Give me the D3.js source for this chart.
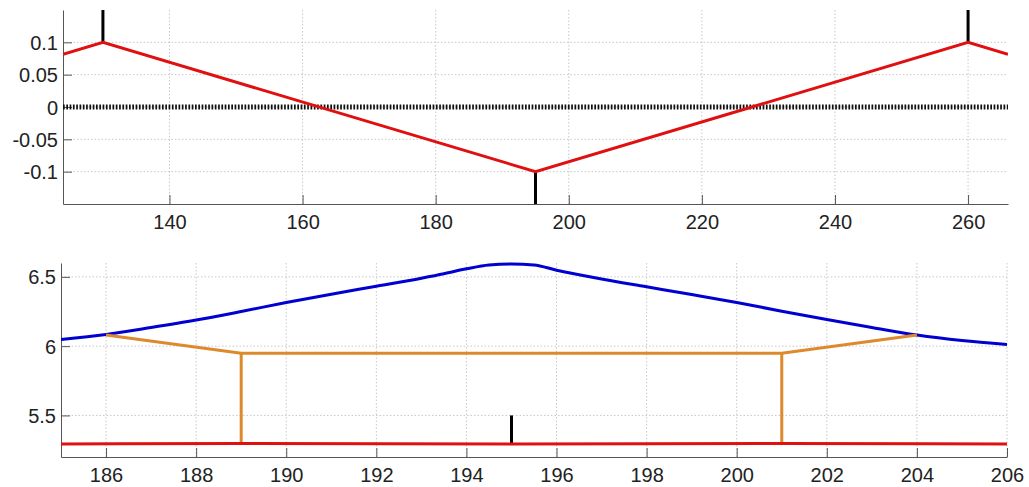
<!DOCTYPE html>
<html>
<head>
<meta charset="utf-8">
<script src="https://cdn.jsdelivr.net/npm/d3@7"></script>
<style>
  body { margin: 0; background: #fff; }
  text { font-family: "Liberation Sans", Arial, sans-serif; font-size: 20px; fill: #222; }
</style>
</head>
<body>
<div id="chart"></div>
<script>
// top panel data
const topXTicks = [140, 160, 180, 200, 220, 240, 260];
const topYTicks = [-0.1, -0.05, 0, 0.05, 0.1];
const topRedX = [124, 130, 195, 260, 266];
const topRedY = [0.0815, 0.1, -0.1, 0.1, 0.0815];
const topStems = [[130, 0.1, 0.15], [195, -0.1, -0.15], [260, 0.1, 0.15]];
const topZeroLine = [124, 266];

// bottom panel data
const botXTicks = [186, 188, 190, 192, 194, 196, 198, 200, 202, 204, 206];
const botYTicks = [5.5, 6, 6.5];
const blueX = [185, 186, 187, 188, 189, 190, 191, 192, 193, 193.5, 194, 194.5, 195, 195.5, 196, 196.5, 197, 198, 199, 200, 201, 202, 203, 204, 205, 206];
const blueY = [6.048, 6.084, 6.134, 6.188, 6.25, 6.315, 6.375, 6.432, 6.49, 6.522, 6.558, 6.586, 6.593, 6.586, 6.548, 6.515, 6.484, 6.428, 6.372, 6.315, 6.252, 6.192, 6.135, 6.08, 6.04, 6.012];
const orangeX = [186, 189, 201, 204];
const orangeY = [6.08, 5.948, 5.948, 6.08];
const orangeDrops = [189, 201];
const redX = [185, 189, 195, 201, 206];
const redY = [5.294, 5.298, 5.294, 5.298, 5.294];
const botStems = [[195, 5.296, 5.5]];

const W = 1029, H = 487;
const svg = d3.select("#chart").append("svg").attr("width", W).attr("height", H);

function panel(cfg) {
  const x = d3.scaleLinear().domain(cfg.xDomain).range([cfg.left, cfg.right]);
  const y = d3.scaleLinear().domain(cfg.yDomain).range([cfg.bottom, cfg.top]);
  const g = svg.append("g");
  const clipId = "clip" + cfg.id;
  svg.append("clipPath").attr("id", clipId).append("rect")
    .attr("x", cfg.left).attr("y", cfg.top - 2)
    .attr("width", cfg.right - cfg.left).attr("height", cfg.bottom - cfg.top + 2);

  // grid
  g.selectAll(".gx").data(cfg.xTicks).enter().append("line")
    .attr("x1", d => x(d)).attr("x2", d => x(d))
    .attr("y1", cfg.top).attr("y2", cfg.bottom)
    .attr("stroke", "#c8c8c8").attr("stroke-dasharray", "1.5,2");
  g.selectAll(".gy").data(cfg.yTicks).enter().append("line")
    .attr("y1", d => y(d)).attr("y2", d => y(d))
    .attr("x1", cfg.left).attr("x2", cfg.right)
    .attr("stroke", "#c8c8c8").attr("stroke-dasharray", "1.5,2");

  // axes (ticks inward)
  const xAxis = g.append("g").attr("transform", `translate(0,${cfg.bottom})`)
    .call(d3.axisBottom(x).tickValues(cfg.xTicks).tickSizeInner(-9).tickSizeOuter(0).tickPadding(20));
  const yAxis = g.append("g").attr("transform", `translate(${cfg.left},0)`)
    .call(d3.axisLeft(y).tickValues(cfg.yTicks).tickFormat(d => String(d)).tickSizeInner(-9).tickSizeOuter(0).tickPadding(15));
  [xAxis, yAxis].forEach(a => {
    a.select(".domain").attr("stroke", "#555");
    a.selectAll(".tick line").attr("stroke", "#555");
    a.selectAll("text").attr("font-size", 20).attr("fill", "#222")
      .attr("font-family", "Liberation Sans, Arial, sans-serif");
  });
  yAxis.selectAll("text").attr("x", -5).attr("dy", "0.35em");
  xAxis.selectAll("text").attr("y", cfg.xLabelDy).attr("dy", 0);

  const plot = svg.append("g").attr("clip-path", `url(#${clipId})`);
  return { x, y, plot };
}

// ---- top panel
const p1 = panel({ id: 1, left: 63, right: 1008, top: 10, bottom: 204,
  xDomain: [124, 266], yDomain: [-0.15, 0.15], xTicks: topXTicks, yTicks: topYTicks, xLabelDy: 25 });

p1.plot.append("line")
  .attr("x1", p1.x(topZeroLine[0])).attr("x2", p1.x(topZeroLine[1]))
  .attr("y1", p1.y(0)).attr("y2", p1.y(0))
  .attr("stroke", "#111").attr("stroke-width", 5).attr("stroke-dasharray", "1.7,1.6");

p1.plot.selectAll(".stem").data(topStems).enter().append("line")
  .attr("x1", d => p1.x(d[0])).attr("x2", d => p1.x(d[0]))
  .attr("y1", d => p1.y(d[1])).attr("y2", d => p1.y(d[2]))
  .attr("stroke", "#000").attr("stroke-width", 3);

p1.plot.append("path")
  .datum(topRedX.map((v, i) => [v, topRedY[i]]))
  .attr("fill", "none").attr("stroke", "#e01010").attr("stroke-width", 3)
  .attr("d", d3.line().x(d => p1.x(d[0])).y(d => p1.y(d[1])));

// ---- bottom panel
const p2 = panel({ id: 2, left: 61, right: 1007, top: 263, bottom: 457,
  xDomain: [185, 206], yDomain: [5.2, 6.6], xTicks: botXTicks, yTicks: botYTicks, xLabelDy: 25 });

p2.plot.append("path")
  .datum(blueX.map((v, i) => [v, blueY[i]]))
  .attr("fill", "none").attr("stroke", "#0000d0").attr("stroke-width", 3)
  .attr("d", d3.line().curve(d3.curveMonotoneX).x(d => p2.x(d[0])).y(d => p2.y(d[1])));

p2.plot.selectAll(".drop").data(orangeDrops).enter().append("line")
  .attr("x1", d => p2.x(d)).attr("x2", d => p2.x(d))
  .attr("y1", p2.y(orangeY[1])).attr("y2", d => p2.y(redY[redX.indexOf(d)]))
  .attr("stroke", "#dd8a2c").attr("stroke-width", 3);

p2.plot.append("path")
  .datum(orangeX.map((v, i) => [v, orangeY[i]]))
  .attr("fill", "none").attr("stroke", "#dd8a2c").attr("stroke-width", 3)
  .attr("d", d3.line().x(d => p2.x(d[0])).y(d => p2.y(d[1])));

p2.plot.selectAll(".stem").data(botStems).enter().append("line")
  .attr("x1", d => p2.x(d[0])).attr("x2", d => p2.x(d[0]))
  .attr("y1", d => p2.y(d[1])).attr("y2", d => p2.y(d[2]))
  .attr("stroke", "#000").attr("stroke-width", 3);

p2.plot.append("path")
  .datum(redX.map((v, i) => [v, redY[i]]))
  .attr("fill", "none").attr("stroke", "#e01010").attr("stroke-width", 3)
  .attr("d", d3.line().curve(d3.curveMonotoneX).x(d => p2.x(d[0])).y(d => p2.y(d[1])));
</script>
</body>
</html>
